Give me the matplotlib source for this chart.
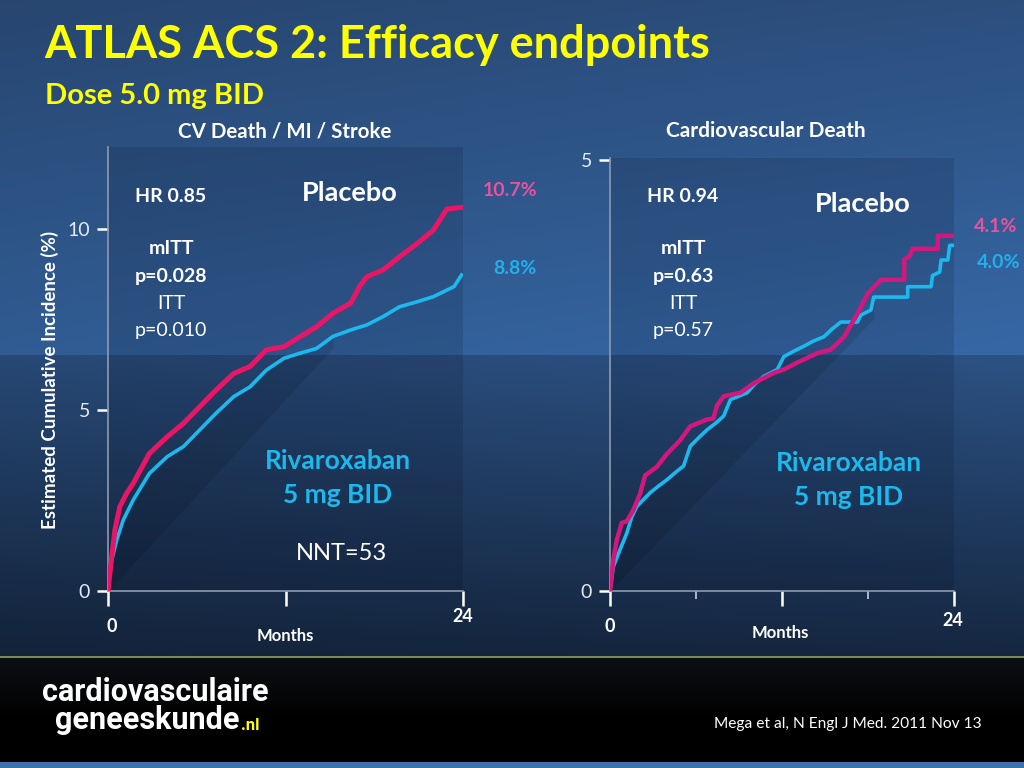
import numpy as np
import matplotlib.pyplot as plt

plt.rcParams['font.family'] = ['Lato', 'DejaVu Sans']

# ---- data ----
# CV death / MI / stroke (months, cumulative incidence %)
cv_t = [0, 0.25, 0.47, 0.8, 1.26, 1.7, 2.8, 4.0, 5.1, 6.2, 7.3, 8.5, 9.6, 10.7,
        11.9, 13.0, 14.1, 15.2, 16.4, 17.0, 17.5, 18.6, 19.7, 20.9, 22.0, 22.9, 24.0]
cv_placebo = [0, 0.95, 1.69, 2.33, 2.70, 2.97, 3.80, 4.26, 4.63, 5.09, 5.55, 6.01,
              6.20, 6.66, 6.75, 7.03, 7.30, 7.67, 7.95, 8.41, 8.68, 8.87, 9.23,
              9.60, 9.97, 10.55, 10.6]
cv_riva_t = [0, 0.14, 0.59, 1.03, 1.7, 2.8, 4.0, 5.1, 6.2, 7.3, 8.5, 9.6, 10.7,
             11.9, 13.0, 14.1, 15.2, 16.4, 17.5, 18.6, 19.7, 20.9, 22.0, 22.9,
             23.4, 23.9]
cv_riva = [0, 0.67, 1.41, 1.96, 2.51, 3.25, 3.71, 3.99, 4.45, 4.91, 5.37, 5.64,
           6.10, 6.43, 6.57, 6.70, 7.03, 7.21, 7.35, 7.58, 7.85, 7.99, 8.13, 8.31,
           8.41, 8.73]

# Cardiovascular death (curve vertices, repeated times are vertical steps)
cd_pl_t = [0, 0.23, 0.47, 0.82, 1.17, 1.63, 2.1, 2.45, 3.27, 3.97, 4.9, 5.6, 6.77,
           7.2, 7.47, 7.93, 9.1, 10.03, 11.43, 12.13, 13.07, 14.47, 15.4, 16.33,
           17.27, 17.97, 18.9, 20.53, 20.53, 20.9, 21.1, 22.87, 22.87, 24.0]
cd_placebo = [0, 0.36, 0.59, 0.79, 0.81, 0.94, 1.13, 1.34, 1.44, 1.59, 1.75, 1.91,
              1.99, 2.0, 2.15, 2.26, 2.30, 2.41, 2.53, 2.57, 2.65, 2.76, 2.80, 2.95,
              3.22, 3.45, 3.61, 3.61, 3.85, 3.88, 3.97, 3.97, 4.12, 4.12]
cd_rv_t = [0, 0.23, 0.7, 1.17, 1.52, 1.87, 2.8, 3.4, 3.97, 4.6, 5.13, 5.6, 6.2,
           6.77, 7.4, 7.93, 8.4, 9.57, 10.1, 10.73, 11.67, 12.13, 12.8, 13.53, 14.2,
           14.93, 15.5, 16.1, 17.27, 17.5, 18.2, 18.4, 20.77, 20.77, 22.4, 22.5,
           23.0, 23.1, 23.57, 23.7, 24.0]
cd_riva = [0, 0.28, 0.48, 0.67, 0.86, 0.98, 1.14, 1.22, 1.29, 1.38, 1.45, 1.68,
           1.78, 1.87, 1.95, 2.03, 2.22, 2.30, 2.40, 2.49, 2.57, 2.72, 2.78, 2.84,
           2.90, 2.95, 3.04, 3.12, 3.12, 3.20, 3.26, 3.41, 3.41, 3.53, 3.53, 3.66,
           3.70, 3.84, 3.84, 4.01, 4.01]

end_labels_cv = ['10.7%', '8.8%']
end_labels_cd = ['4.1%', '4.0%']

PINK = '#ea1566'
MAGENTA = '#d3177d'
CYAN = '#1cb9ee'
LBL_PINK = '#e8529f'
LBL_CYAN = '#22b0ea'
YELLOW = '#ffff00'

W, H = 1024, 768
fig = plt.figure(figsize=(10.24, 7.68), dpi=100)


def px(x, y):
    return x / W, 1 - y / H


# ---- slide background ----
bg = fig.add_axes([0, 0, 1, 1], zorder=-5)
ys = np.arange(H)[:, None]
xs = np.arange(W)[None, :]
top = np.array([0x2a, 0x4b, 0x78]) / 255
mid = np.array([0x34, 0x63, 0x9e]) / 255
low = np.array([0x2a, 0x4e, 0x7e]) / 255
bot = np.array([0x14, 0x25, 0x3d]) / 255
img = np.zeros((H, W, 3))
f1 = np.clip(ys / 355, 0, 1)[..., None]
f2 = np.clip((ys - 355) / 300, 0, 1)[..., None]
upper = top * (1 - f1) + mid * f1
lower = low * (1 - f2) + bot * f2
img[:] = np.where((ys < 355)[..., None], upper, lower)
img *= (0.93 + 0.12 * xs / W)[..., None]
foot = (ys >= 658) & (ys < 762)
fshade = np.clip(1 - (ys - 658) / 60, 0, 1) * 0.05
img = np.where(foot[..., None], np.broadcast_to(fshade[..., None] * np.array([1, 1.2, 1.6]), img.shape), img)
img[656:658] = np.array([0x7d, 0x8a, 0x55]) / 255
img[762:] = np.array([0x3e, 0x70, 0xb0]) / 255
bg.imshow(np.clip(img, 0, 1), aspect='auto', extent=[0, 1, 0, 1])
bg.axis('off')

# ---- titles ----
fig.text(*px(44, 45), 'ATLAS ACS 2: Efficacy endpoints', color=YELLOW,
         fontsize=32.5, fontweight='bold', va='center')
fig.text(*px(45, 96), 'Dose 5.0 mg BID', color=YELLOW, fontsize=21,
         fontweight='bold', va='center')


def setup_axes(ax, ymax, yticks, xticks_major, xticks_minor):
    ax.set_facecolor((0, 0, 0.05, 0.12))
    ax.set_xlim(0, 24)
    ax.set_ylim(0, ymax)
    for s in ['top', 'right']:
        ax.spines[s].set_visible(False)
    for s in ['left', 'bottom']:
        ax.spines[s].set_color('#8d9bb0')
        ax.spines[s].set_linewidth(1.2)
    ax.set_yticks(yticks)
    ax.set_yticklabels([str(v) for v in yticks])
    ax.tick_params(axis='y', direction='out', length=8, width=1.8, color='white',
                   labelcolor='#e6ebf2', labelsize=14, pad=5)
    ax.set_xticks(xticks_major)
    ax.set_xticklabels([])
    ax.tick_params(axis='x', direction='out', length=11, width=1.8, color='white', pad=4)
    ax.set_xticks(xticks_minor, minor=True)
    ax.tick_params(axis='x', which='minor', direction='out', length=6, width=1.2,
                   color='#c8d0dc')


def shadow(ax, t, v, v_end):
    t = np.asarray(t, float)
    v = np.asarray(v, float)
    diag = v_end * t / 24
    ax.fill_between(t, diag, v, where=v > diag, color='black', alpha=0.10,
                    linewidth=0, zorder=1)


# ---- left panel: CV death / MI / stroke ----
ax1 = fig.add_axes([108 / W, 1 - 591 / H, 355 / W, 444 / H])
setup_axes(ax1, 444 / 36.2, [0, 5, 10], [0, 12, 24], [])
shadow(ax1, cv_riva_t, cv_riva, cv_placebo[-1])
ax1.plot(cv_riva_t, cv_riva, color=CYAN, lw=2.6, zorder=3)
ax1.plot(cv_t, cv_placebo, color=PINK, lw=3.6, zorder=4)
ax1.annotate(end_labels_cv[0], (24, cv_placebo[-1]), xytext=(34, 12),
             textcoords='offset points', color=LBL_PINK, fontsize=14,
             fontweight='bold', ha='center', va='center', annotation_clip=False)
ax1.annotate(end_labels_cv[1], (24, cv_riva[-1]), xytext=(37, 5),
             textcoords='offset points', color=LBL_CYAN, fontsize=14,
             fontweight='bold', ha='center', va='center', annotation_clip=False)

# ---- right panel: cardiovascular death ----
ax2 = fig.add_axes([610 / W, 1 - 591 / H, 344 / W, 433 / H])
setup_axes(ax2, 433 / 86.2, [0, 5], [0, 12, 24], [6, 18])
shadow(ax2, cd_rv_t, cd_riva, cd_placebo[-1])
ax2.plot(cd_rv_t, cd_riva, color=CYAN, lw=2.6, zorder=3)
ax2.plot(cd_pl_t, cd_placebo, color=MAGENTA, lw=3.2, zorder=4)
ax2.annotate(end_labels_cd[0], (24, cd_placebo[-1]), xytext=(30, 7),
             textcoords='offset points', color=LBL_PINK, fontsize=14,
             fontweight='bold', ha='center', va='center', annotation_clip=False)
ax2.annotate(end_labels_cd[1], (24, cd_riva[-1]), xytext=(32, -12),
             textcoords='offset points', color=LBL_CYAN, fontsize=14,
             fontweight='bold', ha='center', va='center', annotation_clip=False)

# axis labels
fig.text(*px(50, 380), 'Estimated Cumulative Incidence (%)', color='white',
         fontsize=13.5, fontweight='bold', rotation=90, ha='center', va='center')
for x, y, s in [(112, 626, '0'), (463, 617, '24'), (610, 626, '0'), (953, 621, '24')]:
    fig.text(*px(x, y), s, color='white', fontsize=13, fontweight='bold',
             ha='center', va='center')
fig.text(*px(285, 636), 'Months', color='white', fontsize=12, fontweight='bold',
         ha='center', va='center')
fig.text(*px(780, 633), 'Months', color='white', fontsize=12, fontweight='bold',
         ha='center', va='center')

# panel titles
fig.text(*px(285, 131), 'CV Death / MI / Stroke', color='white', fontsize=14.8,
         fontweight='bold', ha='center', va='center')
fig.text(*px(766, 131), 'Cardiovascular Death', color='white', fontsize=15,
         fontweight='bold', ha='center', va='center')

# statistics text
for cx, hr, p1, p2 in [(171, 'HR 0.85', 'p=0.028', 'p=0.010'),
                       (683, 'HR 0.94', 'p=0.63', 'p=0.57')]:
    fig.text(*px(cx, 196), hr, color='white', fontsize=14, fontweight='bold',
             ha='center', va='center')
    fig.text(*px(cx, 249), 'mITT', color='white', fontsize=14, fontweight='bold',
             ha='center', va='center')
    fig.text(*px(cx, 277), p1, color='white', fontsize=14, fontweight='bold',
             ha='center', va='center')
    fig.text(*px(cx, 304), 'ITT', color='white', fontsize=14,
             ha='center', va='center')
    fig.text(*px(cx, 331), p2, color='white', fontsize=14,
             ha='center', va='center')

fig.text(*px(350, 193), 'Placebo', color='white', fontsize=19.5, fontweight='bold',
         ha='center', va='center')
fig.text(*px(863, 204), 'Placebo', color='white', fontsize=19.5, fontweight='bold',
         ha='center', va='center')
for cx, y0 in [(338, 461), (849, 463)]:
    fig.text(*px(cx, y0), 'Rivaroxaban', color=CYAN, fontsize=19, fontweight='bold',
             ha='center', va='center')
    fig.text(*px(cx, y0 + 34), '5 mg BID', color=CYAN, fontsize=19,
             fontweight='bold', ha='center', va='center')
fig.text(*px(341, 554), 'NNT=53', color='white', fontsize=17,
         ha='center', va='center')

# footer
fig.text(*px(42, 692), 'cardiovasculaire', color='white', fontsize=22,
         fontweight='bold', family=['Roboto', 'DejaVu Sans'], va='center')
gen = fig.text(*px(55, 720), 'geneeskunde', color='white', fontsize=22,
               fontweight='bold', family=['Roboto', 'DejaVu Sans'], va='center')
fig.canvas.draw()
x_end = gen.get_window_extent(fig.canvas.get_renderer()).x1 / W
fig.text(x_end + 0.001, 1 - 726 / H, '.nl', color=YELLOW, fontsize=12,
         fontweight='bold', family=['Roboto', 'DejaVu Sans'], va='center')
fig.text(*px(982, 724), 'Mega et al, N Engl J Med. 2011 Nov 13', color='white',
         fontsize=11.2, ha='right', va='center')

fig.savefig('out.png', dpi=100)
